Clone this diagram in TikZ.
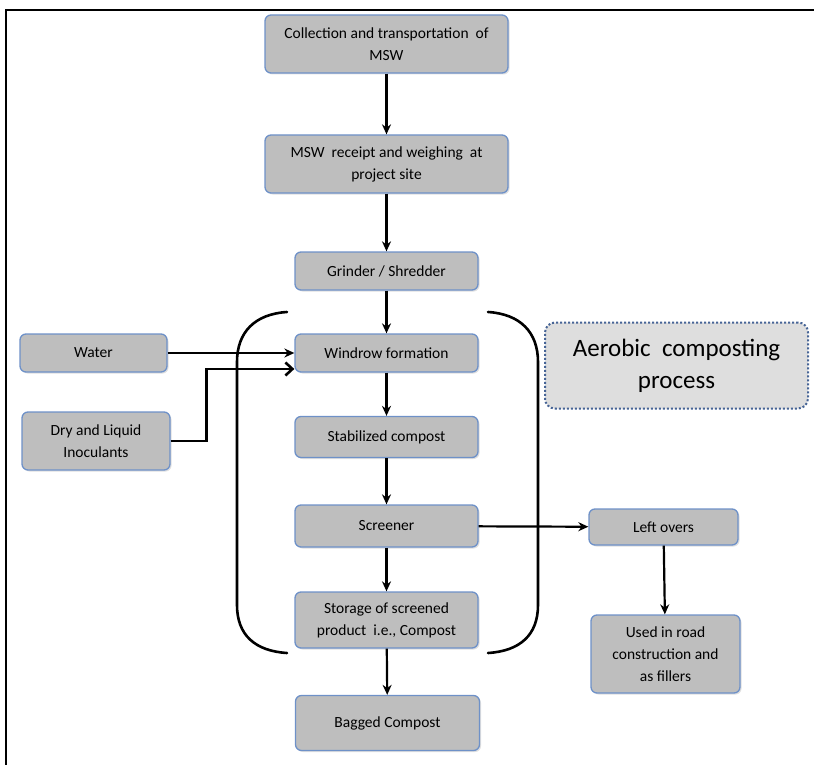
\documentclass[tikz,border=0pt]{standalone}
\usepackage{fontspec}
\setmainfont{Carlito}
\usetikzlibrary{arrows.meta,shadows,positioning}
\definecolor{boxfill}{RGB}{190,190,190}
\definecolor{boxline}{RGB}{110,145,200}
\definecolor{notefill}{RGB}{222,222,222}
\definecolor{noteline}{RGB}{70,100,150}
\tikzset{
  stepbox/.style={
    draw=boxline, fill=boxfill, line width=1.3pt,
    rounded corners=6pt, align=center, inner sep=2pt,
    font=\fontsize{15.5}{22}\selectfont,
    drop shadow={shadow xshift=1.5pt, shadow yshift=-1.5pt, opacity=0.25}
  },
  flow/.style={line width=2.2pt, -{Stealth[length=10pt,width=9pt]}},
  brace/.style={line width=2.6pt, line cap=round}
}
\begin{document}
\begin{tikzpicture}[x=1pt,y=-1pt]
\useasboundingbox (0,0) rectangle (814,765);
% frame
\draw[line width=2pt] (6,765) -- (6,10) -- (814,10);

% main column
\node[stepbox, minimum width=243pt, minimum height=58pt] (collect) at (386.5,44) {Collection and transportation \ of\\MSW};
\node[stepbox, minimum width=243pt, minimum height=58pt] (receipt) at (386.5,164) {MSW \ receipt and weighing \ at\\project site};
\node[stepbox, minimum width=183pt, minimum height=38pt] (grind) at (386.5,271) {Grinder / Shredder};
\node[stepbox, minimum width=183pt, minimum height=38pt] (windrow) at (386.5,353) {Windrow formation};
\node[stepbox, minimum width=183pt, minimum height=41pt] (stable) at (386.5,437) {Stabilized compost};
\node[stepbox, minimum width=183pt, minimum height=42pt] (screen) at (386.5,526) {Screener};
\node[stepbox, minimum width=183pt, minimum height=56pt] (store) at (386.5,620) {Storage of screened\\product \ i.e., Compost};
\node[stepbox, minimum width=184pt, minimum height=55pt] (bagged) at (387.5,723) {Bagged Compost};

% inputs
\node[stepbox, minimum width=147pt, minimum height=38pt] (water) at (93.5,353) {Water};
\node[stepbox, minimum width=148pt, minimum height=58pt] (inoc) at (96,441) {Dry and Liquid\\Inoculants};

% by-products
\node[stepbox, minimum width=149pt, minimum height=36pt] (left) at (663.5,527) {Left overs};
\node[stepbox, minimum width=149pt, minimum height=78pt] (road) at (665.5,654) {Used in road\\construction and\\as fillers};

% note
\node[draw=noteline, fill=notefill, line width=2pt, dotted, rounded corners=10pt,
  minimum width=263pt, minimum height=86pt, align=center,
  font=\fontsize{25}{32}\selectfont] (aerobic) at (676.5,365.5) {Aerobic \ composting\\process};

% brackets
\draw[brace] (287,312) .. controls (255,314) and (237,332) .. (237,362) -- (237,605) .. controls (237,635) and (255,651) .. (287,653);
\draw[brace] (488,312) .. controls (520,314) and (538,332) .. (538,362) -- (538,605) .. controls (538,635) and (520,651) .. (488,653);

% arrows
\draw[flow] (collect) -- (receipt);
\draw[flow] (receipt) -- (grind);
\draw[flow] (grind) -- (windrow);
\draw[flow] (windrow) -- (stable);
\draw[flow] (stable) -- (screen);
\draw[flow] (screen) -- (store);
\draw[flow] (store) -- (bagged);
\draw[flow] (water) -- (windrow);
\draw[line width=2.6pt, -{Straight Barb[length=7pt,width=13pt]}] (inoc.east) -- ++(36,0) |- ([yshift=-16pt]windrow.west);
\draw[flow] (screen) -- (left);
\draw[flow] (left) -- (road);
\end{tikzpicture}
\end{document}
